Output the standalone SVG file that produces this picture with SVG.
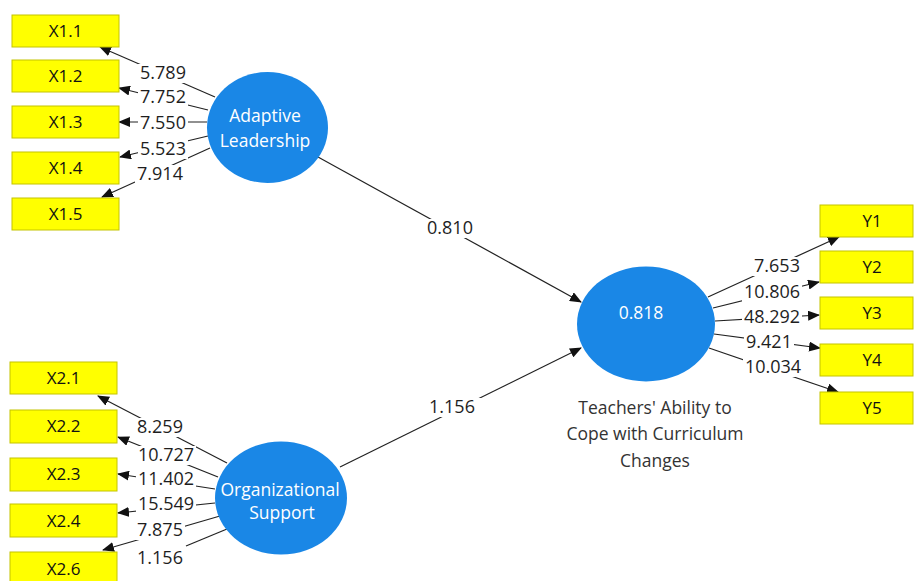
<svg xmlns="http://www.w3.org/2000/svg" width="914" height="581" viewBox="0 0 914 581">
<defs>
<marker id="arr" markerUnits="userSpaceOnUse" markerWidth="12" markerHeight="10" refX="11" refY="5" orient="auto">
<path d="M0,0 L12,5 L0,10 Z" fill="#111"/>
</marker>
<style>
.box{fill:#ffff00;stroke:#c4c400;stroke-width:1}
.bt{font-family:"Open Sans","Noto Sans",sans-serif;font-size:17px;fill:#111;text-anchor:middle}
.lv{fill:#1a87e6}
.lt{font-family:"Open Sans","Noto Sans",sans-serif;font-size:17.5px;fill:#fff;text-anchor:middle}
.ln{stroke:#222;stroke-width:1.2;fill:none}
.ar{marker-end:url(#arr)}
.bg{fill:#fff}
.num{font-family:"Open Sans","Noto Sans",sans-serif;font-size:18px;fill:#1e1e1e;text-anchor:middle}
.cap{font-family:"Open Sans","Noto Sans",sans-serif;font-size:17.5px;fill:#333;text-anchor:middle}
</style>
</defs>
<rect width="914" height="581" fill="#fff"/>
<g id="connectors">
<path class="ln ar" d="M215,97 L100,47"/>
<path class="ln ar" d="M208,110 L119,88"/>
<path class="ln ar" d="M207,122 L119,122"/>
<path class="ln ar" d="M208,136 L120,157"/>
<path class="ln ar" d="M210,148 L102,197"/>
<path class="ln ar" d="M227,463 L98,396"/>
<path class="ln ar" d="M218,477 L118,437"/>
<path class="ln ar" d="M215,489 L118,474"/>
<path class="ln ar" d="M215,503 L118,513"/>
<path class="ln ar" d="M220,516 L103,550"/>
<path class="ln" d="M227,529 L186,546"/>
<path class="ln ar" d="M708,297 L839,237"/>
<path class="ln ar" d="M713,308 L819,282"/>
<path class="ln ar" d="M715,321 L819,315"/>
<path class="ln ar" d="M714,334 L820,348"/>
<path class="ln ar" d="M709,348 L838,392"/>
<path class="ln ar" d="M318,157 L581,302"/>
<path class="ln ar" d="M340,467 L581,348"/>
<rect class="bg" x="138" y="64" width="50" height="19"/>
<rect class="bg" x="138" y="88" width="50" height="19"/>
<rect class="bg" x="138" y="114" width="50" height="19"/>
<rect class="bg" x="138" y="140" width="50" height="19"/>
<rect class="bg" x="135" y="165" width="50" height="19"/>
<rect class="bg" x="135" y="418" width="50" height="19"/>
<rect class="bg" x="136" y="446" width="60" height="19"/>
<rect class="bg" x="136" y="470" width="60" height="19"/>
<rect class="bg" x="136" y="495" width="60" height="19"/>
<rect class="bg" x="135" y="521" width="50" height="19"/>
<rect class="bg" x="742" y="257" width="70" height="19"/>
<rect class="bg" x="742" y="283" width="60" height="19"/>
<rect class="bg" x="742" y="308" width="60" height="19"/>
<rect class="bg" x="744" y="333" width="50" height="19"/>
<rect class="bg" x="743" y="358" width="60" height="19"/>
<rect class="bg" x="420" y="219" width="60" height="19"/>
<rect class="bg" x="422" y="398" width="60" height="19"/>
<text class="num" x="163" y="79">5.789</text>
<text class="num" x="163" y="103">7.752</text>
<text class="num" x="163" y="129">7.550</text>
<text class="num" x="163" y="155">5.523</text>
<text class="num" x="160" y="180">7.914</text>
<text class="num" x="160" y="433">8.259</text>
<text class="num" x="166" y="461">10.727</text>
<text class="num" x="166" y="485">11.402</text>
<text class="num" x="166" y="510">15.549</text>
<text class="num" x="160" y="536">7.875</text>
<text class="num" x="160" y="564">1.156</text>
<text class="num" x="777" y="272">7.653</text>
<text class="num" x="772" y="298">10.806</text>
<text class="num" x="772" y="323">48.292</text>
<text class="num" x="769" y="348">9.421</text>
<text class="num" x="773" y="373">10.034</text>
<text class="num" x="450" y="234">0.810</text>
<text class="num" x="452" y="413">1.156</text>
</g>
<g id="X1.1"><rect class="box" x="12" y="15" width="107" height="32"/><text class="bt" x="65.5" y="37">X1.1</text></g>
<g id="X1.2"><rect class="box" x="12" y="60" width="107" height="32"/><text class="bt" x="65.5" y="82">X1.2</text></g>
<g id="X1.3"><rect class="box" x="12" y="106" width="107" height="32"/><text class="bt" x="65.5" y="128">X1.3</text></g>
<g id="X1.4"><rect class="box" x="12" y="152" width="107" height="32"/><text class="bt" x="65.5" y="174">X1.4</text></g>
<g id="X1.5"><rect class="box" x="12" y="198" width="107" height="32"/><text class="bt" x="65.5" y="220">X1.5</text></g>
<g id="X2.1"><rect class="box" x="10" y="362" width="107" height="32"/><text class="bt" x="63.5" y="384">X2.1</text></g>
<g id="X2.2"><rect class="box" x="10" y="410" width="107" height="33"/><text class="bt" x="63.5" y="432">X2.2</text></g>
<g id="X2.3"><rect class="box" x="10" y="458" width="107" height="33"/><text class="bt" x="63.5" y="480">X2.3</text></g>
<g id="X2.4"><rect class="box" x="10" y="504" width="107" height="33"/><text class="bt" x="63.5" y="527">X2.4</text></g>
<g id="X2.6"><rect class="box" x="10" y="552" width="107" height="33"/><text class="bt" x="63.5" y="575">X2.6</text></g>
<g id="Y1"><rect class="box" x="820" y="205" width="93" height="32"/><text class="bt" x="872" y="227">Y1</text></g>
<g id="Y2"><rect class="box" x="820" y="251" width="93" height="32"/><text class="bt" x="872" y="273">Y2</text></g>
<g id="Y3"><rect class="box" x="820" y="297" width="93" height="32"/><text class="bt" x="872" y="319">Y3</text></g>
<g id="Y4"><rect class="box" x="820" y="344" width="93" height="32"/><text class="bt" x="872" y="366">Y4</text></g>
<g id="Y5"><rect class="box" x="820" y="392" width="93" height="32"/><text class="bt" x="872" y="414">Y5</text></g>
<g id="AdaptiveLeadership"><ellipse class="lv" cx="267.5" cy="127.5" rx="60.5" ry="55.5"/><text class="lt" x="265" y="122">Adaptive</text><text class="lt" x="265" y="147">Leadership</text></g>
<g id="OrganizationalSupport"><ellipse class="lv" cx="281" cy="498" rx="66" ry="56.5"/><text class="lt" x="280" y="496">Organizational</text><text class="lt" x="282" y="519">Support</text></g>
<g id="TeachersAbility"><ellipse class="lv" cx="646" cy="324" rx="69" ry="57.5"/><text class="lt" x="641" y="319">0.818</text>
<text class="cap" x="655" y="414">Teachers' Ability to</text>
<text class="cap" x="655" y="440">Cope with Curriculum</text>
<text class="cap" x="655" y="467">Changes</text></g>
</svg>
